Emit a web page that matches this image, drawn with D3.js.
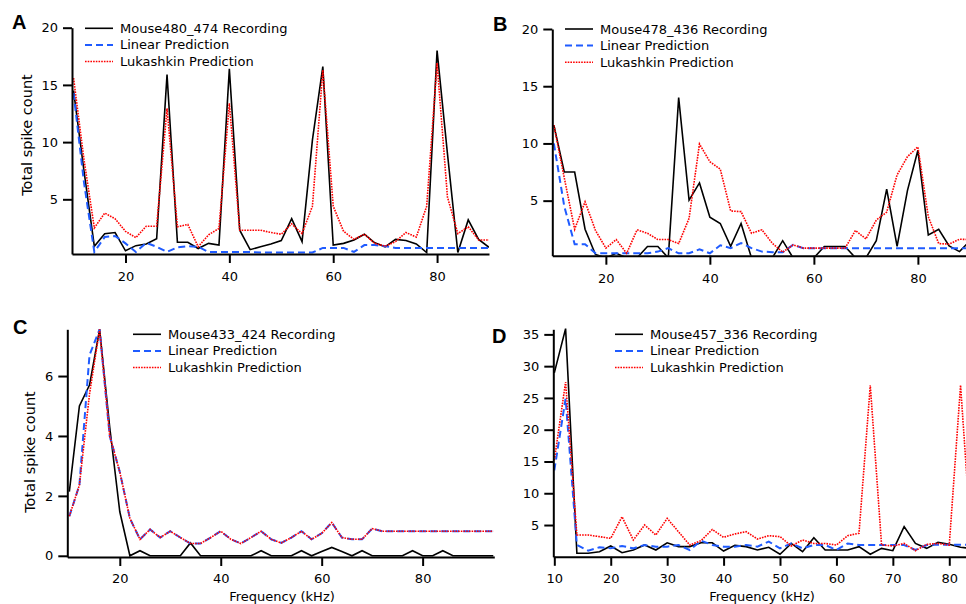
<!DOCTYPE html>
<html>
<head>
<meta charset="utf-8">
<style>
body { margin: 0; background: #fff; }
svg { font-family: "DejaVu Sans", sans-serif; }
</style>
<script src="https://cdn.jsdelivr.net/npm/d3@7"></script>
</head>
<body>
<svg id="fig" width="966" height="604"></svg>
<script>

// frequencies (kHz)
var freqAB = [10,12,14,16,18,20,22,24,26,28,30,32,34,36,38,40,42,44,46,48,50,52,54,56,58,60,62,64,66,68,70,72,74,76,78,80,82,84,86,88,90];
var freqC = [10,12,14,16,18,20,22,24,26,28,30,32,34,36,38,40,42,44,46,48,50,52,54,56,58,60,62,64,66,68,70,72,74,76,78,80,82,84,86,88,90,92,94];
var freqD = [10,12,14,16,18,20,22,24,26,28,30,32,34,36,38,40,42,44,46,48,50,52,54,56,58,60,62,64,66,68,70,72,74,76,78,80,82,84];

// panel A  Mouse480_474
var recA = [14.5,7.5,0.9,2.0,2.1,0.5,0.95,1.1,1.55,15.9,1.25,1.25,0.7,1.15,1.0,16.4,2.3,0.6,0.85,1.1,1.4,3.3,1.3,10.2,16.6,1.0,1.15,1.45,1.95,1.2,0.85,1.5,1.4,1.1,0.35,18.0,9.0,0.35,3.2,1.5,0.8];
var linA = [14.3,6.5,0.4,1.7,1.8,1.15,0.4,1.2,0.85,0.4,0.8,0.9,0.85,0.4,0.4,0.4,0.4,0.4,0.35,0.35,0.35,0.35,0.35,0.35,0.75,0.75,0.75,0.4,1.0,1.0,0.9,0.75,0.75,0.75,0.75,0.75,0.75,0.75,0.75,0.75,0.75];
var lukA = [15.6,8.5,2.5,3.8,3.3,2.2,1.65,2.65,2.65,12.95,2.6,2.8,0.85,1.9,2.45,13.4,2.3,2.3,2.3,2.1,1.95,2.85,2.0,4.4,16.3,4.4,2.2,1.5,1.95,1.15,0.9,1.3,2.1,1.7,4.4,16.9,5.2,2.0,2.6,1.45,1.45];

// panel B  Mouse478_436
var recB = [11.6,7.5,7.5,2.5,0.3,0,0.4,0,0,1.0,1.0,0,14.0,5.05,6.55,3.55,3.0,1.0,3.0,0,0,0,1.5,0,0,0,1.0,1.0,1.0,0,0,1.5,6.0,1.0,5.9,9.4,2.0,2.5,1.05,0.55,1.5];
var linB = [10.0,4.5,1.2,1.2,0.4,0.4,0.4,0.4,0.4,0.4,0.55,0.85,0.4,0.4,0.75,0.4,1.1,0.85,1.3,0.85,0.55,0.5,0.5,1.13,0.85,0.85,0.85,0.85,0.85,0.85,0.85,0.85,0.85,0.85,0.85,0.85,0.85,0.85,0.85,0.85,0.85];
var lukB = [11.6,7.0,2.5,4.9,2.4,0.85,1.6,0.4,2.45,2.15,1.6,1.6,1.25,3.45,9.95,8.4,7.75,4.1,4.04,2.15,2.45,1.28,0.5,1.13,0.85,0.85,0.85,0.85,0.85,2.4,1.65,3.3,4.0,7.25,8.85,9.7,3.6,1.25,1.2,1.63,1.6];

// panel C  Mouse433_424
var recC = [2.14,5.0,5.7,7.56,4.3,1.47,0,0.17,0,0,0,0,0.43,0,0,0,0,0,0,0.17,0,0,0,0.17,0,0.14,0.28,0.14,0,0.17,0,0,0,0,0.17,0,0,0.17,0,0,0,0,0];
var linC = [1.32,2.36,6.7,7.56,4.0,2.8,1.25,0.55,0.88,0.61,0.82,0.61,0.41,0.41,0.61,0.82,0.55,0.41,0.61,0.82,0.55,0.43,0.61,0.82,0.55,0.75,1.11,0.61,0.55,0.55,0.91,0.82,0.82,0.82,0.82,0.82,0.82,0.82,0.82,0.82,0.82,0.82,0.82];
var lukC = [1.32,2.36,5.4,7.56,4.0,2.8,1.25,0.55,0.88,0.61,0.82,0.61,0.41,0.41,0.61,0.82,0.55,0.41,0.61,0.82,0.55,0.43,0.61,0.82,0.55,0.75,1.11,0.61,0.55,0.55,0.91,0.82,0.82,0.82,0.82,0.82,0.82,0.82,0.82,0.82,0.82,0.82,0.82];

// panel D  Mouse457_336
var recD = [28.95,35.9,0.55,0.55,0.8,1.7,0.65,1.07,1.86,1.07,2.2,1.6,1.6,2.2,2.2,0.9,1.8,1.6,1.07,1.5,0.4,2.1,0.8,3.0,1.07,1.07,1.07,1.6,0.4,1.33,0.96,4.74,2.1,1.33,2.28,1.96,1.5,1.3];
var linD = [13.6,24.9,1.86,0.96,1.5,1.33,1.7,1.33,1.86,1.6,1.6,1.86,1.07,2.54,1.86,1.6,1.6,1.86,1.6,2.4,1.33,2.1,1.33,1.86,1.86,1.07,2.1,1.86,1.86,1.86,1.86,1.86,1.07,1.86,1.9,1.9,1.9,1.9];
var lukD = [15.2,27.5,3.43,3.43,3.17,2.9,6.3,2.64,5.0,3.43,6.05,3.95,1.86,2.54,4.3,3.06,3.6,3.95,2.8,3.33,3.17,1.7,2.64,2.1,2.1,1.86,3.33,3.7,27.0,1.86,1.7,2.1,0.96,1.96,2.1,1.86,27.0,1.0];

var mouseNames = ["Mouse480_474", "Mouse478_436", "Mouse433_424", "Mouse457_336"];
var seriesNames = ["Recording", "Linear Prediction", "Lukashkin Prediction"];
var ticksAB = [20, 40, 60, 80];
var ticksD = [10, 20, 30, 40, 50, 60, 70, 80];
var yTicksAB = [5, 10, 15, 20];
var yTicksC = [0, 2, 4, 6];
var yTicksD = [5, 10, 15, 20, 25, 30, 35];

var styles = [
  { color: "#000000", width: 1.6, dash: null },
  { color: "#1f5bff", width: 2, dash: "7,4" },
  { color: "#ff0000", width: 1.6, dash: "1.6,1.1" }
];

var svg = d3.select("#fig");

var panels = [
  { id: "A", name: mouseNames[0], freq: freqAB, series: [recA, linA, lukA],
    xd: [9.7, 90], xr: [72, 489], yd: [0.22, 20], yr: [254, 27.7],
    xt: ticksAB, yt: yTicksAB, letter: [12, 29], ylabel: [27, 135], xlabel: null,
    legend: [85, 28.3] },
  { id: "B", name: mouseNames[1], freq: freqAB, series: [recB, linB, lukB],
    xd: [9.7, 90], xr: [552.3, 969.9], yd: [0.19, 20], yr: [255.7, 29],
    xt: ticksAB, yt: yTicksAB, letter: [493, 31], ylabel: null, xlabel: null,
    legend: [565, 29] },
  { id: "C", name: mouseNames[2], freq: freqC, series: [recC, linC, lukC],
    xd: [9.6, 94.2], xr: [67.3, 494.3], yd: [-0.04, 7.56], yr: [557, 329.3],
    xt: ticksAB, yt: yTicksC, letter: [13, 334], ylabel: [30, 452], xlabel: [282, 601],
    legend: [133, 334.3] },
  { id: "D", name: mouseNames[3], freq: freqD, series: [recD, linD, lukD],
    xd: [9.82, 83], xr: [553.3, 966.2], yd: [0, 35.8], yr: [556.8, 329.3],
    xt: ticksD, yt: yTicksD, letter: [492, 343], ylabel: null, xlabel: [762, 601],
    legend: [615, 334.3] }
];

panels.forEach(function(p) {
  var x = d3.scaleLinear().domain(p.xd).range(p.xr);
  var y = d3.scaleLinear().domain(p.yd).range(p.yr);
  var g = svg.append("g").attr("class", "panel" + p.id);

  // clip data to the plot area
  var clipId = "clip" + p.id;
  svg.append("clipPath").attr("id", clipId)
    .append("rect")
    .attr("x", p.xr[0]).attr("y", p.yr[1] - 6)
    .attr("width", Math.min(p.xr[1], 966) - p.xr[0])
    .attr("height", p.yr[0] - p.yr[1] + 6);

  var line = d3.line()
    .x(function(d) { return x(d[0]); })
    .y(function(d) { return y(d[1]); });

  var plot = g.append("g").attr("clip-path", "url(#" + clipId + ")");
  p.series.forEach(function(vals, i) {
    var pts = p.freq.map(function(f, k) { return [f, vals[k]]; });
    plot.append("path")
      .datum(pts)
      .attr("d", line)
      .attr("fill", "none")
      .attr("stroke", styles[i].color)
      .attr("stroke-width", styles[i].width)
      .attr("stroke-dasharray", styles[i].dash)
      .attr("stroke-linejoin", "miter");
  });

  // axes
  var xAxis = g.append("g")
    .attr("transform", "translate(0," + p.yr[0] + ")")
    .call(d3.axisBottom(x).tickValues(p.xt).tickFormat(d3.format("d"))
      .tickSize(9).tickSizeOuter(0).tickPadding(p.id == "A" || p.id == "B" ? 9 : 8));
  var yAxis = g.append("g")
    .attr("transform", "translate(" + p.xr[0] + ",0)")
    .call(d3.axisLeft(y).tickValues(p.yt).tickFormat(d3.format("d"))
      .tickSize(9).tickSizeOuter(0).tickPadding(5));

  [xAxis, yAxis].forEach(function(a) {
    a.select(".domain").attr("stroke-width", 2).attr("stroke", "#000");
    a.selectAll(".tick line").attr("stroke-width", 2).attr("stroke", "#000");
    a.selectAll(".tick text")
      .attr("font-family", "DejaVu Sans, sans-serif")
      .attr("font-size", 13).attr("fill", "#000");
  });

  // panel letter
  g.append("text")
    .attr("x", p.letter[0]).attr("y", p.letter[1])
    .attr("font-family", "Liberation Sans, Arial, sans-serif")
    .attr("font-weight", "bold").attr("font-size", 20)
    .text(p.id);

  if (p.ylabel) {
    g.append("text")
      .attr("transform", "translate(" + p.ylabel[0] + "," + p.ylabel[1] + ") rotate(-90)")
      .attr("text-anchor", "middle").attr("dy", "0.35em")
      .attr("font-size", 14.5)
      .text("Total spike count");
  }
  if (p.xlabel) {
    g.append("text")
      .attr("x", p.xlabel[0]).attr("y", p.xlabel[1])
      .attr("text-anchor", "middle")
      .attr("font-size", 13)
      .text("Frequency (kHz)");
  }

  // legend
  var leg = g.append("g").attr("transform", "translate(" + p.legend[0] + "," + p.legend[1] + ")");
  seriesNames.forEach(function(s, i) {
    var row = leg.append("g").attr("transform", "translate(0," + (i * 16.6) + ")");
    row.append("line")
      .attr("x1", 0).attr("x2", 28).attr("y1", 0).attr("y2", 0)
      .attr("stroke", styles[i].color)
      .attr("stroke-width", styles[i].width)
      .attr("stroke-dasharray", styles[i].dash);
    row.append("text")
      .attr("x", 35).attr("y", 0).attr("dy", "0.35em")
      .attr("font-size", 13)
      .text(i == 0 ? p.name + " " + s : s);
  });
});

</script>
</body>
</html>
